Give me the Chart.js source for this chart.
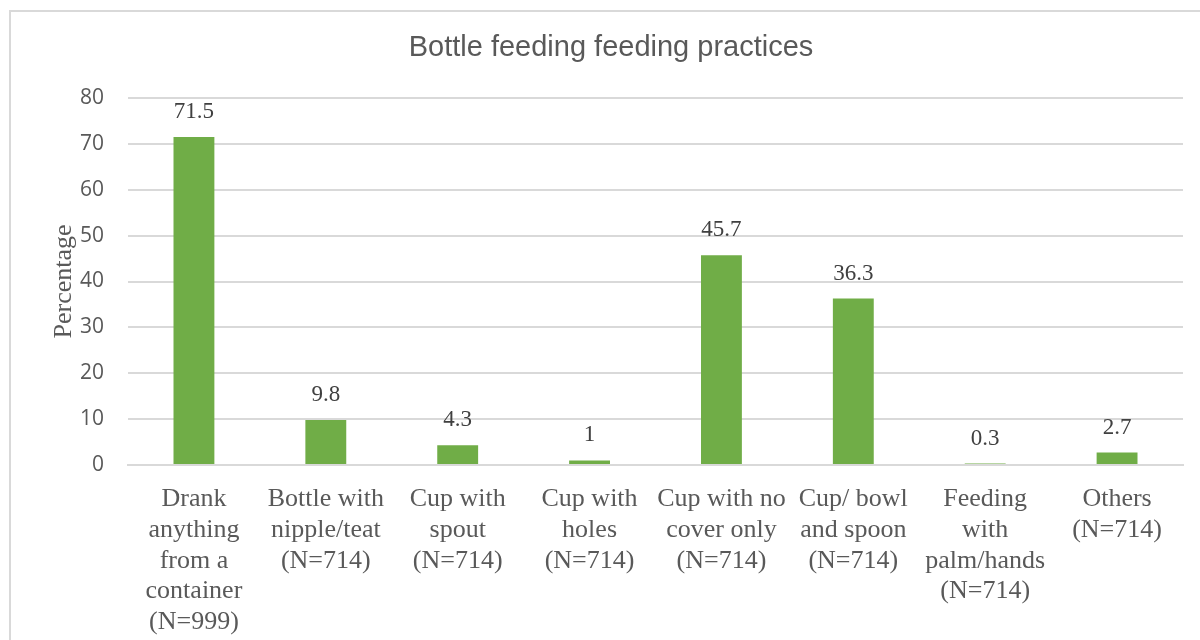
<!DOCTYPE html>
<html>
<head>
<meta charset="utf-8">
<script src="https://cdn.jsdelivr.net/npm/chart.js@4/dist/chart.umd.min.js"></script>
<style>
  html, body { margin: 0; padding: 0; background: #fff; }
  #wrap { position: relative; width: 1200px; height: 640px; overflow: hidden; }
  #frame {
    position: absolute; left: 9px; top: 10px; width: 1240px; height: 700px;
    border: 2px solid #d9d9d9; box-sizing: border-box;
  }
  #chart { position: absolute; left: 0; top: 0; }
</style>
</head>
<body>
<div id="wrap">
  <div id="frame"></div>
  <canvas id="chart" width="1200" height="640"></canvas>
</div>
<script>
const categories = [
  ["Drank", "anything", "from a", "container", "(N=999)"],
  ["Bottle with", "nipple/teat", "(N=714)"],
  ["Cup with", "spout", "(N=714)"],
  ["Cup with", "holes", "(N=714)"],
  ["Cup with no", "cover only", "(N=714)"],
  ["Cup/ bowl", "and spoon", "(N=714)"],
  ["Feeding", "with", "palm/hands", "(N=714)"],
  ["Others", "(N=714)"]
];
const percentages = [71.5, 9.8, 4.3, 1, 45.7, 36.3, 0.3, 2.7];
const yTicks = [0, 10, 20, 30, 40, 50, 60, 70, 80];

const chartTitle = "Bottle feeding feeding practices";

// value labels above each bar, plus the chart title
const labelsPlugin = {
  id: "barLabels",
  afterDatasetsDraw(chart) {
    const ctx = chart.ctx;
    const meta = chart.getDatasetMeta(0);
    ctx.save();
    ctx.fillStyle = "#404040";
    ctx.font = "23px 'Liberation Serif', 'Times New Roman', serif";
    ctx.textAlign = "center";
    ctx.textBaseline = "middle";
    meta.data.forEach((bar, i) => {
      ctx.fillText(String(percentages[i]), bar.x, bar.y - 25);
    });

    ctx.fillStyle = "#595959";
    ctx.font = "29px 'Liberation Sans', Arial, sans-serif";
    ctx.fillText(chartTitle, 611, 48);
    ctx.restore();
  }
};

new Chart(document.getElementById("chart"), {
  type: "bar",
  data: {
    labels: categories,
    datasets: [{
      data: percentages,
      backgroundColor: "#70ad47",
      borderWidth: 0,
      categoryPercentage: 1,
      barPercentage: 0.31
    }]
  },
  options: {
    responsive: false,
    animation: false,
    layout: { padding: { top: 98, right: 17, left: 0, bottom: 0 } },
    plugins: {
      legend: { display: false },
      tooltip: { enabled: false },
      title: { display: false }
    },
    scales: {
      x: {
        grid: { display: false, drawTicks: false },
        border: { color: "#d9d9d9", width: 2 },
        ticks: {
          color: "#595959",
          padding: 19,
          maxRotation: 0,
          autoSkip: false,
          font: { family: "'Liberation Serif', 'Times New Roman', serif", size: 26, lineHeight: "30.7px" }
        },
        afterFit(scale) { scale.height = 175; }
      },
      y: {
        min: 0,
        max: 80,
        afterBuildTicks(scale) { scale.ticks = yTicks.map(v => ({ value: v })); },
        grid: { color: "#d9d9d9", lineWidth: 2, drawTicks: false },
        border: { display: false },
        ticks: {
          color: "#595959",
          padding: 24,
          font: { family: "'Open Sans', sans-serif", size: 21 }
        },
        title: {
          display: true,
          text: "Percentage",
          color: "#595959",
          padding: { top: 49, bottom: 0 },
          font: { family: "'Liberation Serif', 'Times New Roman', serif", size: 26, lineHeight: 1.2 }
        },
        afterFit(scale) { scale.width = 128; }
      }
    }
  },
  plugins: [labelsPlugin]
});
</script>
</body>
</html>
